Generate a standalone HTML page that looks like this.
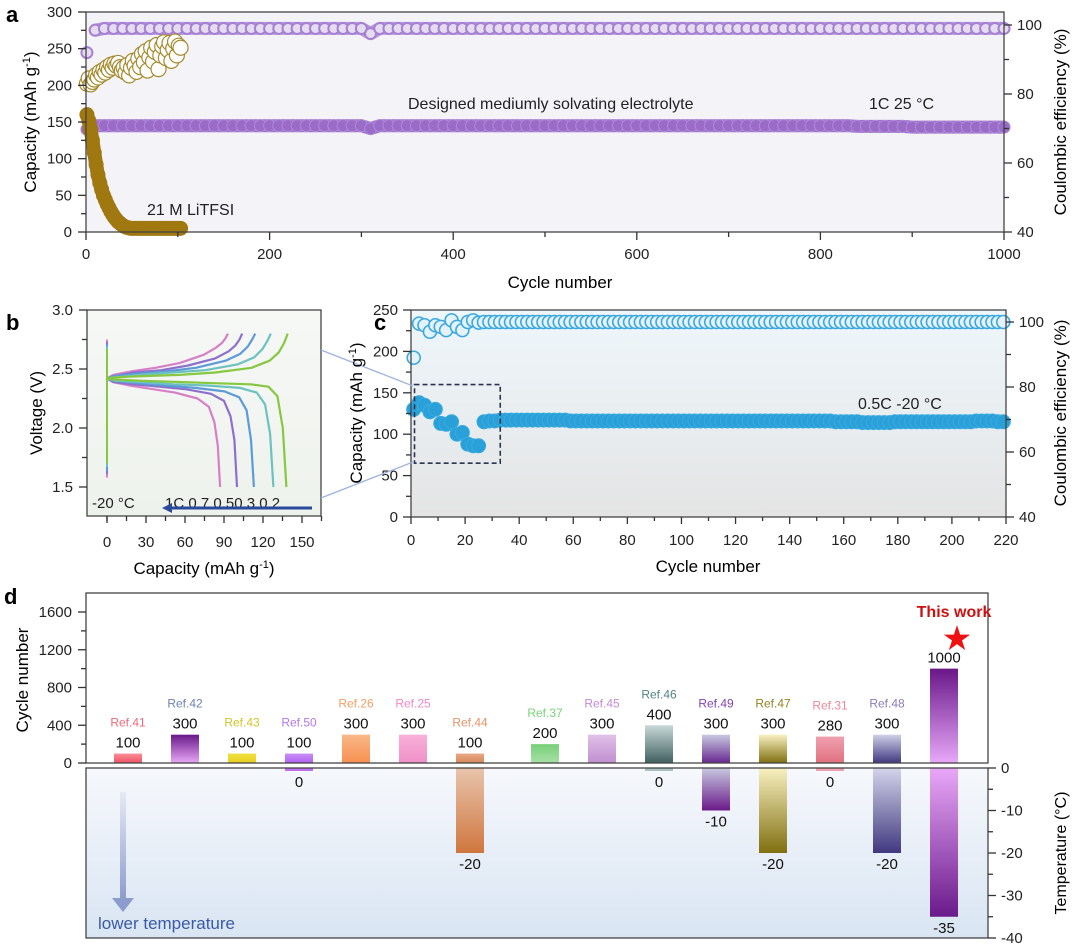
<!DOCTYPE html>
<html><head><meta charset="utf-8"><style>
html,body{margin:0;padding:0;background:#fff;}
svg{display:block;font-family:"Liberation Sans","Noto Sans CJK SC",sans-serif;}
</style></head><body>
<svg id="fig" width="1080" height="946" viewBox="0 0 1080 946" xmlns="http://www.w3.org/2000/svg">
<defs>
<linearGradient id="bgB" x1="0" y1="0" x2="0" y2="1"><stop offset="0" stop-color="#f6f8f6"/><stop offset="1" stop-color="#eef2ec"/></linearGradient>
<linearGradient id="bgC" x1="0" y1="0" x2="0" y2="1"><stop offset="0" stop-color="#eef7fc"/><stop offset="1" stop-color="#e4e4e4"/></linearGradient>
<linearGradient id="bgD" x1="0" y1="0" x2="0" y2="1"><stop offset="0" stop-color="#f6f8fc"/><stop offset="1" stop-color="#d9e5f3"/></linearGradient>
<linearGradient id="arrowG" x1="0" y1="0" x2="0" y2="1"><stop offset="0" stop-color="#e6eaf4"/><stop offset="1" stop-color="#8c9ccc"/></linearGradient>
</defs>
<rect x="86" y="12" width="918" height="220" fill="#f4f3f8"/>
<rect x="87" y="310" width="234" height="206" fill="url(#bgB)"/>
<rect x="411" y="310" width="595" height="207" fill="url(#bgC)"/>
<rect x="86" y="593" width="902" height="170" fill="#ffffff"/>
<rect x="86" y="768" width="902" height="170" fill="url(#bgD)"/>
<g id="marks"></g>
<g id="axes"></g>
<text x="6" y="22" font-size="22" font-weight="bold">a</text>
<text x="6" y="330" font-size="22" font-weight="bold">b</text>
<text x="374" y="330" font-size="22" font-weight="bold">c</text>
<text x="4" y="604" font-size="22" font-weight="bold">d</text>
<text x="408" y="109" font-size="16" fill="#222">Designed mediumly solvating electrolyte</text>
<text x="869" y="109" font-size="16" fill="#222">1C 25 °C</text>
<text x="147" y="215" font-size="16" fill="#222">21 M LiTFSI</text>
<text x="858" y="409" font-size="16" fill="#222">0.5C -20 °C</text>
<text x="92" y="508" font-size="15" fill="#222">-20 °C</text>
<text x="165" y="508" font-size="15" fill="#222">1C 0.7 0.50.3 0.2</text>
<line x1="312" y1="508" x2="170" y2="508" stroke="#2a4a9a" stroke-width="3"/>
<polygon points="162,508 172,503 172,513" fill="#2a4a9a"/>
<line x1="321" y1="350" x2="413" y2="386" stroke="#9fb3e2" stroke-width="1.3"/>
<line x1="321" y1="498" x2="413" y2="462" stroke="#9fb3e2" stroke-width="1.3"/>
<text x="560" y="288" font-size="17" text-anchor="middle">Cycle number</text>
<text transform="translate(36,122) rotate(-90)" font-size="17" text-anchor="middle">Capacity (mAh g<tspan dy="-6" font-size="11">-1</tspan><tspan dy="6">)</tspan></text>
<text transform="translate(1066,122) rotate(-90)" font-size="17" text-anchor="middle">Coulombic efficiency (%)</text>
<text x="204" y="574" font-size="17" text-anchor="middle">Capacity (mAh g<tspan dy="-6" font-size="11">-1</tspan><tspan dy="6">)</tspan></text>
<text transform="translate(42,413) rotate(-90)" font-size="17" text-anchor="middle">Voltage (V)</text>
<text x="708" y="572" font-size="17" text-anchor="middle">Cycle number</text>
<text transform="translate(362,413) rotate(-90)" font-size="17" text-anchor="middle">Capacity (mAh g<tspan dy="-6" font-size="11">-1</tspan><tspan dy="6">)</tspan></text>
<text transform="translate(1066,413) rotate(-90)" font-size="17" text-anchor="middle">Coulombic efficiency (%)</text>
<text transform="translate(28,680) rotate(-90)" font-size="17" text-anchor="middle">Cycle number</text>
<text transform="translate(1066,853) rotate(-90)" font-size="16" text-anchor="middle">Temperature (°C)</text>
<rect x="120" y="792" width="6" height="108" fill="url(#arrowG)"/>
<polygon points="112,898 134,898 123,912" fill="#8c9ccc"/>
<text x="98" y="929" font-size="17" fill="#3a5aa6">lower temperature</text>
<text x="954" y="617" font-size="16" font-weight="bold" fill="#cc1010" text-anchor="middle">This work</text>
<text x="957" y="648" font-size="28" fill="#ee1111" text-anchor="middle">★</text>
</svg>
<script>
// ---------- data: panel a ----------
const aStep = 10;
const aPurpleCE = [92,98.5,99,99,99,99,99,99,99,99,99,99,99,99,99,99,99,99,99,99,99,99,99,99,99,99,99,99,99,99,99,97.5,99,99,99,99,99,99,99,99,99,99,99,99,99,99,99,99,99,99,99,99,99,99,99,99,99,99,99,99,99,99,99,99,99,99,99,99,99,99,99,99,99,99,99,99,99,99,99,99,99,99,99,99,99,99,99,99,99,99,99,99,99,99,99,99,99,99,99,99,99];
const aPurpleCap = [140,145,145,145,145,145,145,145,145,145,145,145,145,145,145,145,145,145,145,145,145,145,145,145,145,145,145,145,145,145,145,141,145,145,145,145,145,145,145,145,145,145,145,145,145,145,145,145,145,145,145,145,145,145,145,145,145,145,145,145,145,145,145,145,145,145,145,145,145,145,145,145,145,145,145,145,145,145,145,145,145,145,145,145,144,144,144,144,144,144,143,143,143,143,143,143,143,143,143,143,143];
const aOliveCycles = [1,3,5,7,9,11,13,15,17,19,21,23,25,27,29,31,33,35,37,39,41,43,45,47,49,51,53,55,57,59,61,63,65,67,69,71,73,75,77,79,81,83,85,87,89,91,93,95,97,99,101,103];
const aOliveCE = [83,84.5,82.8,83.5,84.2,85.5,84.8,86.4,85.6,87,86.2,87.8,87,88.5,87.6,88.8,88.2,89,87.8,86.8,87.6,86.2,88.4,85.4,87.6,89.6,88.2,86.4,90.2,87.8,91.6,89.2,92.4,86.8,90.6,93.4,89.4,92.2,94.2,87.2,91.2,93.8,95,90.4,92.8,94.8,89.6,93.2,95.2,91.2,94,93.4];
const aOliveCap = [160,152,140,125,108,92,78,67,58,50,44,38,33,28,24,20,17,14,12,10,8,7,6,5.5,5,5,5,5,5,5,5,5,5,5,5,5,5,5,5,5,5,5,5,5,5,5,5,5,5,5,5,5];
const aYTicks = [0,50,100,150,200,250,300];
const aXTicks = [0,200,400,600,800,1000];
const aY2Ticks = [40,60,80,100];
// ---------- data: panel b ----------
const bRates = ["1C","0.7C","0.5C","0.3C","0.2C"];
const bColors = ["#d67fc6","#8e70cc","#5d9bd8","#6cc2c0","#86c840"];
const bDisCap = [87,100,113,128,138];
const bChCap = [93,104,114,126,139];
const bFrac = [0,0.05,0.2,0.4,0.6,0.8,0.9,0.95,0.98,1];
const bDisV = [
 [2.42,2.39,2.36,2.33,2.30,2.25,2.18,2.05,1.85,1.5],
 [2.42,2.39,2.37,2.35,2.33,2.29,2.23,2.10,1.90,1.5],
 [2.42,2.40,2.38,2.36,2.34,2.31,2.26,2.15,1.90,1.5],
 [2.42,2.40,2.39,2.37,2.36,2.34,2.30,2.20,1.95,1.5],
 [2.42,2.41,2.40,2.39,2.38,2.37,2.35,2.27,2.00,1.5]];
const bChV = [
 [2.42,2.45,2.48,2.51,2.55,2.62,2.68,2.72,2.76,2.8],
 [2.42,2.44,2.47,2.49,2.53,2.59,2.65,2.70,2.75,2.8],
 [2.42,2.44,2.46,2.48,2.51,2.57,2.63,2.69,2.75,2.8],
 [2.42,2.43,2.45,2.47,2.49,2.54,2.60,2.67,2.74,2.8],
 [2.42,2.43,2.44,2.45,2.47,2.51,2.57,2.64,2.72,2.8]];
const bXTicks = [0,30,60,90,120,150];
const bYTicks = [1.5,2.0,2.5,3.0];
// ---------- data: panel c ----------
const cStep = 2;
const cCap = [130,138,135,127,130,113,112,115,100,102,88,86,86,115,116,116,117,117,117,117,117,117,117,117,117,117,117,117,117,116,116,116,116,116,116,116,116,116,116,116,116,116,116,116,116,116,116,116,116,116,116,116,116,116,116,116,116,116,116,116,116,116,116,116,116,116,116,116,116,116,116,116,116,116,116,116,116,116,115,115,115,115,115,114,114,114,114,114,114,115,115,115,115,115,115,115,115,115,115,115,115,115,115,115,116,116,116,116,115,115];
const cCE = [89,99.5,99,97,99,98.5,97.5,100.5,98.5,97.5,100,100.5,99.8,100,100,100,100,100,100,100,100,100,100,100,100,100,100,100,100,100,100,100,100,100,100,100,100,100,100,100,100,100,100,100,100,100,100,100,100,100,100,100,100,100,100,100,100,100,100,100,100,100,100,100,100,100,100,100,100,100,100,100,100,100,100,100,100,100,100,100,100,100,100,100,100,100,100,100,100,100,100,100,100,100,100,100,100,100,100,100,100,100,100,100,100,100,100,100,100,100];
const cXTicks = [0,20,40,60,80,100,120,140,160,180,200,220];
const cYTicks = [0,50,100,150,200,250];
const cY2Ticks = [40,60,80,100];
// ---------- data: panel d ----------
const dRefs = ["Ref.41","Ref.42","Ref.43","Ref.50","Ref.26","Ref.25","Ref.44","Ref.37","Ref.45","Ref.46","Ref.49","Ref.47","Ref.31","Ref.48","This work"];
const dCycles = [100,300,100,100,300,300,100,200,300,400,300,300,280,300,1000];
const dTemps = [null,null,null,0,null,null,-20,null,null,0,-10,-20,0,-20,-35];
const dLabelColors = ["#f06a78","#7080b4","#d4c428","#b478f0","#f4a064","#f488c8","#e49468","#78d478","#c688d8","#548484","#8244b4","#948424","#f08898","#8c7cb8","#cc1010"];
const dTopColors = [["#f89098","#f05060"],["#681888","#e8a8f8"],["#f0e040","#e8d020"],["#c890f8","#b060f0"],["#f8b888","#f89050"],["#f8b0d8","#f090c8"],["#e8a888","#d88858"],["#78d078","#a8e0a8"],["#e0c0e8","#c090d0"],["#c8d8d8","#406060"],["#c8c8e0","#682890"],["#f8f0c0","#807010"],["#f0a0b0","#e07080"],["#d0d0e8","#403880"],["#681888","#e8a8f8"]];
const dBotColors = [null,null,null,["#c070f0","#c070f0"],null,null,["#e8c4ac","#d0763e"],null,null,["#a8c0c0","#a8c0c0"],["#c8c8e0","#6a1a8a"],["#f8f0c0","#807010"],["#f0a0b0","#f0a0b0"],["#d4d4ea","#403880"],["#e8a8f8","#6a1a8a"]];
const dYTicks = [0,400,800,1200,1600];
const dY2Ticks = [0,-10,-20,-30,-40];

// ---------- helpers ----------
const NS = "http://www.w3.org/2000/svg";
const marks = document.getElementById("marks");
const axes = document.getElementById("axes");
const defs = document.querySelector("defs");
function mk(tag, attrs, parent) {
  const e = document.createElementNS(NS, tag);
  for (const k in attrs) e.setAttribute(k, attrs[k]);
  parent.appendChild(e);
  return e;
}
const ax = c => 86 + c * 0.918;
const ayL = v => 232 - v * 220 / 300;
const ayR = p => 232 - (p - 40) * 207 / 60;
const bx = q => 107 + q * 1.3;
const by = v => 487 - (v - 1.5) * 118;
const cx = n => 411 + n * 595 / 220;
const cyL = v => 517 - v * 207 / 250;
const cyR = p => 517 - (p - 40) * 195 / 60;
const dyTop = v => 763 - v * 151 / 1600;
const dyBot = t => 768 - t * 170 / 40;
const dBandX = i => 128 + i * 57 + (i >= 7 ? 18 : 0);

function tick(x1, y1, x2, y2, name) {
  const l = mk("line", {x1, y1, x2, y2, stroke: "#333", "stroke-width": 1.3}, axes);
  
  
}
function label(x, y, txt, anchor, size, name) {
  const t = mk("text", {x, y, "text-anchor": anchor, "font-size": size, fill: "#222"}, axes);
  t.textContent = txt;
  
  
}
function frame(x, y, w, h, name) {
  const r = mk("rect", {x, y, width: w, height: h, fill: "none", stroke: "#444", "stroke-width": 1.3}, axes);
  
  
}
function band(xs, ys, color, width, parent, name) {
  const pts = xs.map((x, i) => x.toFixed(1) + "," + ys[i].toFixed(1)).join(" ");
  const p = mk("polyline", {points: pts, fill: "none", stroke: color, "stroke-width": width, "stroke-linejoin": "round", "stroke-linecap": "round"}, parent);
  
  
}

// ---------- panel a ----------
frame(86, 12, 918, 220, "plot-frame-a");
aYTicks.forEach(v => { tick(78, ayL(v), 86, ayL(v), "y-tick-a"); label(72, ayL(v) + 5, String(v), "end", 15, "y-tick-label-a"); });
aYTicks.slice(0, -1).forEach(v => tick(81, ayL(v + 25), 86, ayL(v + 25), "y-minor-tick-a"));
aXTicks.forEach(v => { tick(ax(v), 232, ax(v), 240, "x-tick-a"); label(ax(v), 259, String(v), "middle", 15, "x-tick-label-a"); });
aXTicks.slice(0, -1).forEach(v => tick(ax(v + 100), 232, ax(v + 100), 237, "x-minor-tick-a"));
aY2Ticks.forEach(v => { tick(1004, ayR(v), 1012, ayR(v), "y2-tick-a"); label(1017, ayR(v) + 5, String(v), "start", 15, "y2-tick-label-a"); });
aY2Ticks.slice(0, -1).forEach(v => tick(1004, ayR(v + 10), 1009, ayR(v + 10), "y2-minor-tick-a"));

const gA = mk("g", {}, marks);

const aX = aPurpleCap.map((v, i) => ax(Math.max(i * aStep, 1)));
band(aX.slice(1), aPurpleCap.slice(1).map(ayL), "#9c70cc", 13, gA, "capacity-band-designed");
band(aX.slice(1), aPurpleCE.slice(1).map(ayR), "#b596dc", 13, gA, "ce-band-designed");
aPurpleCap.forEach((v, i) => {
  const c = mk("circle", {cx: aX[i], cy: ayL(v), r: 6, fill: "#9a6cc8", stroke: "#b08ad8", "stroke-width": 1}, gA);
  
  
});
aPurpleCE.forEach((v, i) => {
  const c = mk("circle", {cx: aX[i], cy: ayR(v), r: 5.5, fill: "#e6dcf2", stroke: "#a680d2", "stroke-width": 2}, gA);
  
  
});
aOliveCE.forEach((v, i) => {
  const c = mk("circle", {cx: ax(aOliveCycles[i]), cy: ayR(v), r: 7.5, fill: "#ffffff", stroke: "#a58a2c", "stroke-width": 1.2}, gA);
  
  
});
band(aOliveCycles.map(ax), aOliveCap.map(ayL), "#a07810", 14, gA, "capacity-band-litfsi");
aOliveCap.forEach((v, i) => {
  const c = mk("circle", {cx: ax(aOliveCycles[i]), cy: ayL(v), r: 7, fill: "#a07810", stroke: "#a07810", "stroke-width": 1}, gA);
  
  
});

// ---------- panel b ----------
const gB = mk("g", {}, marks);

bRates.forEach((rate, k) => {
  const vl = mk("line", {x1: bx(0), y1: by(1.58 + k * 0.03), x2: bx(0), y2: by(2.75 - k * 0.02), stroke: bColors[k], "stroke-width": 2}, gB);
  
  
  const dPts = bFrac.map((f, j) => bx(f * bDisCap[k]).toFixed(1) + "," + by(bDisV[k][j]).toFixed(1)).join(" ");
  const pd = mk("polyline", {points: dPts, fill: "none", stroke: bColors[k], "stroke-width": 2.2, "stroke-linejoin": "round"}, gB);
  
  
  const cPts = bFrac.map((f, j) => bx(f * bChCap[k]).toFixed(1) + "," + by(bChV[k][j]).toFixed(1)).join(" ");
  const pc = mk("polyline", {points: cPts, fill: "none", stroke: bColors[k], "stroke-width": 2.2, "stroke-linejoin": "round"}, gB);
  
  
});
frame(87, 310, 234, 206, "plot-frame-b");
bYTicks.forEach(v => { tick(79, by(v), 87, by(v), "y-tick-b"); label(73, by(v) + 5, v.toFixed(1), "end", 15, "y-tick-label-b"); });
bYTicks.slice(0, -1).forEach(v => tick(82, by(v + 0.25), 87, by(v + 0.25), "y-minor-tick-b"));
bXTicks.forEach(v => { tick(bx(v), 516, bx(v), 523, "x-tick-b"); label(bx(v), 547, String(v), "middle", 15, "x-tick-label-b"); });
[-15].concat(bXTicks).forEach(v => tick(bx(v + 15), 516, bx(v + 15), 521, "x-minor-tick-b"));

// ---------- panel c ----------
const gC = mk("g", {}, marks);

const cX = cCap.map((v, i) => cx(1 + i * cStep));
band(cX.slice(13), cCE.slice(13).map(cyR), "#7cc4e8", 12, gC, "ce-band-c");
band(cX.slice(13), cCap.slice(13).map(cyL), "#2aa0d8", 13, gC, "capacity-band-c");
cCE.forEach((v, i) => {
  const c = mk("circle", {cx: cX[i], cy: cyR(v), r: 6.5, fill: "#e4f3fb", stroke: "#3aa8de", "stroke-width": 1.6}, gC);
  
  
});
cCap.forEach((v, i) => {
  const c = mk("circle", {cx: cX[i], cy: cyL(v), r: 7, fill: "#29a0d8", stroke: "#3aaae0", "stroke-width": 1}, gC);
  
  
});
const box = mk("rect", {x: cx(1.3), y: cyL(160), width: cx(33) - cx(1.3), height: cyL(65) - cyL(160), fill: "none", stroke: "#2a3550", "stroke-width": 1.6, "stroke-dasharray": "5,3"}, gC);


frame(411, 310, 595, 207, "plot-frame-c");
cYTicks.forEach(v => { tick(403, cyL(v), 411, cyL(v), "y-tick-c"); label(398, cyL(v) + 5, String(v), "end", 15, "y-tick-label-c"); });
cYTicks.slice(0, -1).forEach(v => tick(406, cyL(v + 25), 411, cyL(v + 25), "y-minor-tick-c"));
cXTicks.forEach(v => { tick(cx(v), 517, cx(v), 524, "x-tick-c"); label(cx(v), 545, String(v), "middle", 15, "x-tick-label-c"); });
cXTicks.slice(0, -1).forEach(v => tick(cx(v + 10), 517, cx(v + 10), 521, "x-minor-tick-c"));
cY2Ticks.forEach(v => { tick(1006, cyR(v), 1014, cyR(v), "y2-tick-c"); label(1019, cyR(v) + 5, String(v), "start", 15, "y2-tick-label-c"); });
cY2Ticks.slice(0, -1).forEach(v => tick(1006, cyR(v + 10), 1011, cyR(v + 10), "y2-minor-tick-c"));

// ---------- panel d ----------
const gD = mk("g", {}, marks);

dRefs.forEach((ref, i) => {
  const xc = dBandX(i), w = 28;
  const tg = mk("linearGradient", {id: "dt" + i, x1: 0, y1: 0, x2: 0, y2: 1}, defs);
  mk("stop", {offset: 0, "stop-color": dTopColors[i][0]}, tg);
  mk("stop", {offset: 1, "stop-color": dTopColors[i][1]}, tg);
  const top = dyTop(dCycles[i]);
  const r = mk("rect", {x: xc - w / 2, y: top, width: w, height: dyTop(0) - top, fill: "url(#dt" + i + ")"}, gD);
  
  
  const vt = mk("text", {x: xc, y: top - 6, "text-anchor": "middle", "font-size": 15, fill: "#111"}, gD);
  vt.textContent = String(dCycles[i]);
  
  
  if (i < dRefs.length - 1) {
    const rt = mk("text", {x: xc, y: top - 27, "text-anchor": "middle", "font-size": 12, fill: dLabelColors[i]}, gD);
    rt.textContent = ref;
    
    
  }
  if (dTemps[i] !== null) {
    const bg = mk("linearGradient", {id: "db" + i, x1: 0, y1: 0, x2: 0, y2: 1}, defs);
    mk("stop", {offset: 0, "stop-color": dBotColors[i][0]}, bg);
    mk("stop", {offset: 1, "stop-color": dBotColors[i][1]}, bg);
    const h = Math.max(dyBot(dTemps[i]) - dyBot(0), 3);
    const br = mk("rect", {x: xc - w / 2, y: dyBot(0), width: w, height: h, fill: "url(#db" + i + ")"}, gD);
    
    
    const bt = mk("text", {x: xc, y: dyBot(0) + h + 16, "text-anchor": "middle", "font-size": 15, fill: "#111"}, gD);
    bt.textContent = String(dTemps[i]);
    
    
  }
});
frame(86, 593, 902, 170, "plot-frame-d-top");
frame(86, 768, 902, 170, "plot-frame-d-bottom");
dYTicks.forEach(v => { tick(78, dyTop(v), 86, dyTop(v), "y-tick-d"); label(72, dyTop(v) + 5, String(v), "end", 15, "y-tick-label-d"); });
dYTicks.slice(0, -1).forEach(v => tick(81, dyTop(v + 200), 86, dyTop(v + 200), "y-minor-tick-d"));
dY2Ticks.forEach(v => { tick(988, dyBot(v), 996, dyBot(v), "y2-tick-d"); label(1001, dyBot(v) + 5, String(v), "start", 15, "y2-tick-label-d"); });
dY2Ticks.slice(0, -1).forEach(v => tick(988, dyBot(v - 5), 993, dyBot(v - 5), "y2-minor-tick-d"));
</script>
</body></html>
